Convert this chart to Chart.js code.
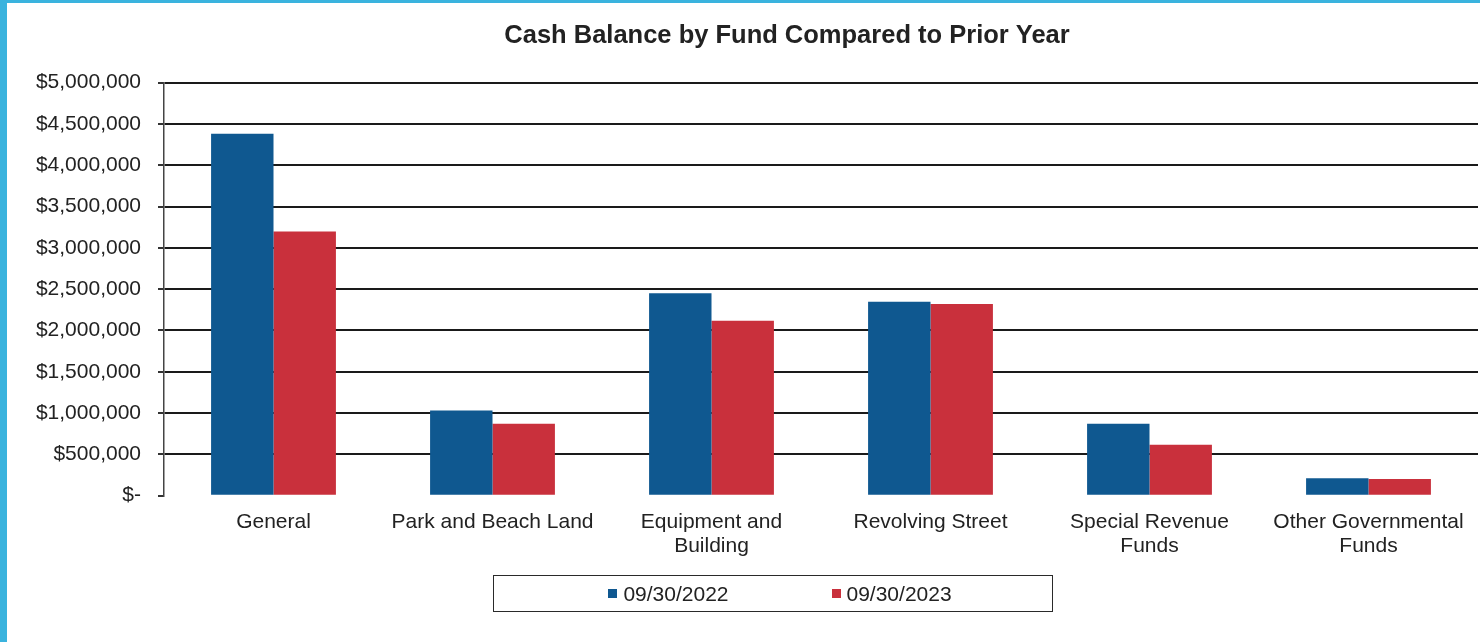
<!DOCTYPE html>
<html>
<head>
<meta charset="utf-8">
<script src="https://cdn.jsdelivr.net/npm/chart.js@4"></script>
<style>
  html, body { margin: 0; padding: 0; background: #fff; }
  body { width: 1480px; height: 642px; position: relative; overflow: hidden; font-family: "Liberation Sans", Arial, sans-serif; }
  #wrap { position: absolute; left: 0; top: 0; width: 1574px; height: 642px; }
  #frame { position: absolute; left: 0; top: 0; width: 1480px; height: 642px; box-sizing: border-box;
           border-left: 7px solid #3ab3de; border-top: 3px solid #3ab3de; pointer-events: none; }
  #legend { position: absolute; left: 493px; top: 575px; width: 560px; height: 37px; box-sizing: border-box;
            border: 1.5px solid #2a2a2a; display: flex; align-items: center; justify-content: center;
            gap: 103px; padding-left: 14px; font-size: 21px; color: #222; }
  #legend .item { display: flex; align-items: center; }
  #legend .box { width: 9px; height: 9px; margin-right: 6px; }
</style>
</head>
<body>
<div id="wrap"><canvas id="chart" width="1574" height="642"></canvas></div>
<div id="legend"></div>
<div id="frame"></div>
<script>
const funds = ['General', 'Park and Beach Land', ['Equipment and', 'Building'], 'Revolving Street', ['Special Revenue', 'Funds'], ['Other Governmental', 'Funds']]
const seriesNames = ['09/30/2022', '09/30/2023']
const balance2022 = [4381000, 1032000, 2450000, 2348000, 871000, 210000]
const balance2023 = [3198000, 871000, 2117000, 2320000, 616000, 203000]
const yMax = 5000000
const yStep = 500000

const blue = '#0f5890'
const red = '#c9303c'
const ink = '#222'

const canvas = document.getElementById('chart')
const myChart = new Chart(canvas, {
    type: 'bar',
    data: {
        labels: funds,
        datasets: [
            { label: seriesNames[0], data: balance2022, backgroundColor: blue },
            { label: seriesNames[1], data: balance2023, backgroundColor: red }
        ]
    },
    options: {
        responsive: false,
        animation: false,
        datasets: { bar: { categoryPercentage: 0.57, barPercentage: 1.0 } },
        layout: { padding: { left: 0, right: 0, top: 0, bottom: 78 } },
        plugins: {
            legend: { display: false },
            tooltip: { enabled: false },
            title: {
                display: true,
                text: 'Cash Balance by Fund Compared to Prior Year',
                color: ink,
                font: { family: 'Liberation Sans', size: 25.5, weight: 'bold', lineHeight: 1.2 },
                padding: { top: 21, bottom: 31 }
            }
        },
        scales: {
            x: {
                grid: { display: false },
                border: { display: false },
                ticks: {
                    color: ink,
                    padding: 6,
                    maxRotation: 0,
                    autoSkip: false,
                    font: { family: 'Liberation Sans', size: 21, lineHeight: 1.15 }
                }
            },
            y: {
                min: 0,
                max: yMax,
                afterFit: scale => { scale.width = 164 },
                border: { display: true, color: '#444', width: 1.5 },
                grid: {
                    color: ctx => ctx.tick && ctx.tick.value === 0 ? 'rgba(0,0,0,0)' : '#1a1a1a',
                    lineWidth: 2,
                    tickColor: '#333',
                    tickLength: 6
                },
                ticks: {
                    stepSize: yStep,
                    color: ink,
                    padding: 17,
                    font: { family: 'Liberation Sans', size: 21 },
                    callback: v => v === 0 ? '$-' : '$' + v.toLocaleString('en-US')
                }
            },
            // empty right-hand axis, only keeps a margin beside the plot
            spacer: {
                type: 'linear',
                position: 'right',
                afterFit: scale => { scale.width = 96 },
                grid: { display: false },
                border: { display: false },
                ticks: { display: false }
            }
        }
    }
})

// legend drawn as html under the canvas
const legend = document.getElementById('legend')
myChart.data.datasets.forEach(ds => {
    const item = document.createElement('div')
    item.className = 'item'
    const box = document.createElement('span')
    box.className = 'box'
    box.style.backgroundColor = ds.backgroundColor
    const txt = document.createElement('span')
    txt.textContent = ds.label
    item.appendChild(box)
    item.appendChild(txt)
    legend.appendChild(item)
})
</script>
</body>
</html>
